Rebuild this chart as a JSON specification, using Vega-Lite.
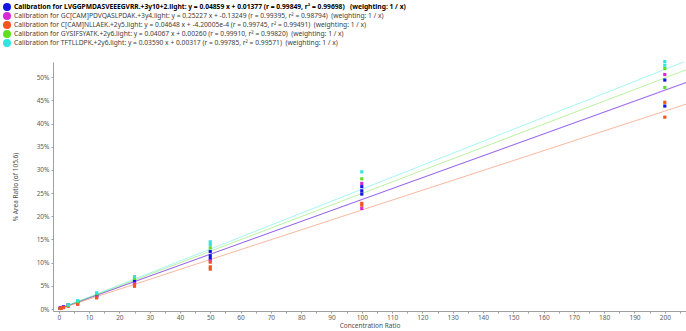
{
  "$schema": "https://vega.github.io/schema/vega-lite/v6.json",
  "width": 633,
  "height": 249,
  "autosize": {"type": "none"},
  "padding": {"left": 53, "top": 62, "right": 0, "bottom": 20},
  "background": "white",
  "config": {
    "view": {"stroke": null},
    "font": "Noto Sans",
    "axis": {"grid": false, "domainColor": "#a0a0a0", "tickColor": "#a0a0a0", "labelColor": "#606060", "labelFontSize": 6.5, "titleFontSize": 6.5, "titleFontWeight": "normal", "titleColor": "#505050", "tickSize": 2}
  },
  "datasets": {
    "pts": [
      {"s": "A", "x": 0.39, "y": 0.2}, {"s": "A", "x": 0.78, "y": 0.3}, {"s": "A", "x": 1.56, "y": 0.5}, {"s": "A", "x": 3.125, "y": 0.9}, {"s": "A", "x": 6.25, "y": 1.5}, {"s": "A", "x": 12.5, "y": 3.0}, {"s": "A", "x": 12.5, "y": 2.7}, {"s": "A", "x": 25, "y": 6.1}, {"s": "A", "x": 25, "y": 5.7}, {"s": "A", "x": 50, "y": 12.4}, {"s": "A", "x": 50, "y": 11.5}, {"s": "A", "x": 50, "y": 10.9}, {"s": "A", "x": 100, "y": 26.4}, {"s": "A", "x": 100, "y": 25.5}, {"s": "A", "x": 100, "y": 24.8}, {"s": "A", "x": 200, "y": 49.4}, {"s": "A", "x": 200, "y": 43.8},
      {"s": "B", "x": 0.78, "y": 0.25}, {"s": "B", "x": 1.56, "y": 0.4}, {"s": "B", "x": 3.125, "y": 0.7}, {"s": "B", "x": 6.25, "y": 1.2}, {"s": "B", "x": 12.5, "y": 2.6}, {"s": "B", "x": 25, "y": 5.5}, {"s": "B", "x": 50, "y": 10.4}, {"s": "B", "x": 100, "y": 27.1}, {"s": "B", "x": 100, "y": 21.7}, {"s": "B", "x": 200, "y": 50.6},
      {"s": "C", "x": 0.39, "y": 0.1}, {"s": "C", "x": 0.78, "y": 0.2}, {"s": "C", "x": 1.56, "y": 0.3}, {"s": "C", "x": 3.125, "y": 0.6}, {"s": "C", "x": 6.25, "y": 1.0}, {"s": "C", "x": 12.5, "y": 2.4}, {"s": "C", "x": 25, "y": 5.2}, {"s": "C", "x": 25, "y": 4.9}, {"s": "C", "x": 50, "y": 10.1}, {"s": "C", "x": 50, "y": 9.1}, {"s": "C", "x": 50, "y": 8.6}, {"s": "C", "x": 100, "y": 22.8}, {"s": "C", "x": 100, "y": 22.4}, {"s": "C", "x": 200, "y": 44.6}, {"s": "C", "x": 200, "y": 41.4},
      {"s": "D", "x": 3.125, "y": 0.8}, {"s": "D", "x": 6.25, "y": 1.6}, {"s": "D", "x": 12.5, "y": 3.3}, {"s": "D", "x": 25, "y": 6.6}, {"s": "D", "x": 50, "y": 13.2}, {"s": "D", "x": 100, "y": 28.1}, {"s": "D", "x": 200, "y": 51.9}, {"s": "D", "x": 200, "y": 47.8},
      {"s": "E", "x": 3.125, "y": 0.9}, {"s": "E", "x": 6.25, "y": 1.8}, {"s": "E", "x": 12.5, "y": 3.5}, {"s": "E", "x": 25, "y": 7.0}, {"s": "E", "x": 50, "y": 14.5}, {"s": "E", "x": 50, "y": 13.9}, {"s": "E", "x": 100, "y": 29.6}, {"s": "E", "x": 200, "y": 53.4}, {"s": "E", "x": 200, "y": 52.6}
    ],
    "fits": [
      {"s": "B", "x": 0, "y": 0.05}, {"s": "B", "x": 207, "y": 48.8},
      {"s": "A", "x": 0, "y": 0}, {"s": "A", "x": 207, "y": 48.9},
      {"s": "C", "x": 0, "y": 0}, {"s": "C", "x": 207, "y": 44.2},
      {"s": "D", "x": 0, "y": 0}, {"s": "D", "x": 207, "y": 51.6},
      {"s": "E", "x": 0, "y": 0}, {"s": "E", "x": 207, "y": 53.5}
    ]
  },
  "encoding": {
    "x": {"field": "x", "type": "quantitative", "title": "Concentration Ratio",
      "scale": {"domain": [-1.9, 207], "nice": false, "zero": false},
      "axis": {"values": [0,5,10,15,20,25,30,35,40,45,50,55,60,65,70,75,80,85,90,95,100,105,110,115,120,125,130,135,140,145,150,155,160,165,170,175,180,185,190,195,200,205], "labelExpr": "datum.value % 10 === 0 ? datum.label : ''", "labelPadding": 1, "titlePadding": 2, "labelFlush": false}},
    "y": {"field": "y", "type": "quantitative", "title": "% Area Ratio (of 105.6)",
      "scale": {"domain": [-0.43, 53.3], "nice": false, "zero": false},
      "axis": {"values": [0,5,10,15,20,25,30,35,40,45,50], "labelExpr": "datum.value + '%'", "labelPadding": 2, "titlePadding": 18}},
    "color": {"field": "s", "type": "nominal",
      "scale": {"domain": ["A","B","C","D","E"], "range": ["#1414e6", "#d629d6", "#f0561e", "#5ee01e", "#2ee6e0"]},
      "legend": {"orient": "none", "legendX": -50, "legendY": -59, "title": null, "symbolType": "circle", "symbolSize": 64, "symbolOpacity": 1, "symbolStrokeWidth": 0, "labelFontSize": 6.7, "labelColor": "#404040", "labelOffset": 3, "rowPadding": 1, "labelLimit": 700,
        "labelExpr": "datum.value === 'A' ? 'Calibration for LVGGPMDASVEEEGVRR.+3y10+2.light: y = 0.04859 x + 0.01377 (r = 0.99849, r² = 0.99698)\u00a0\u00a0\u00a0(weighting: 1 / x)' : datum.value === 'B' ? 'Calibration for GC[CAM]PDVQASLPDAK.+3y4.light: y = 0.25227 x + -0.13249 (r = 0.99395, r² = 0.98794)\u00a0\u00a0(weighting: 1 / x)' : datum.value === 'C' ? 'Calibration for C[CAM]NLLAEK.+2y5.light: y = 0.04648 x + -4.20005e-4 (r = 0.99745, r² = 0.99491)\u00a0\u00a0(weighting: 1 / x)' : datum.value === 'D' ? 'Calibration for GYSIFSYATK.+2y6.light: y = 0.04067 x + 0.00260 (r = 0.99910, r² = 0.99820)\u00a0\u00a0(weighting: 1 / x)' : 'Calibration for TFTLLDPK.+2y6.light: y = 0.03590 x + 0.00317 (r = 0.99785, r² = 0.99571)\u00a0\u00a0(weighting: 1 / x)'",
        "encode": {"labels": {"update": {"fontWeight": {"signal": "datum.value === 'A' ? 'bold' : 'normal'"}, "fill": {"signal": "datum.value === 'A' ? '#000000' : '#404040'"}}}}
      }
    }
  },
  "layer": [
    {
      "data": {"name": "fits"},
      "mark": {"type": "line", "strokeWidth": 1, "opacity": 0.42, "clip": true},
      "encoding": {"detail": {"field": "s"}}
    },
    {
      "data": {"name": "pts"},
      "mark": {"type": "point", "shape": "square", "filled": true, "size": 10, "opacity": 1}
    }
  ]
}
